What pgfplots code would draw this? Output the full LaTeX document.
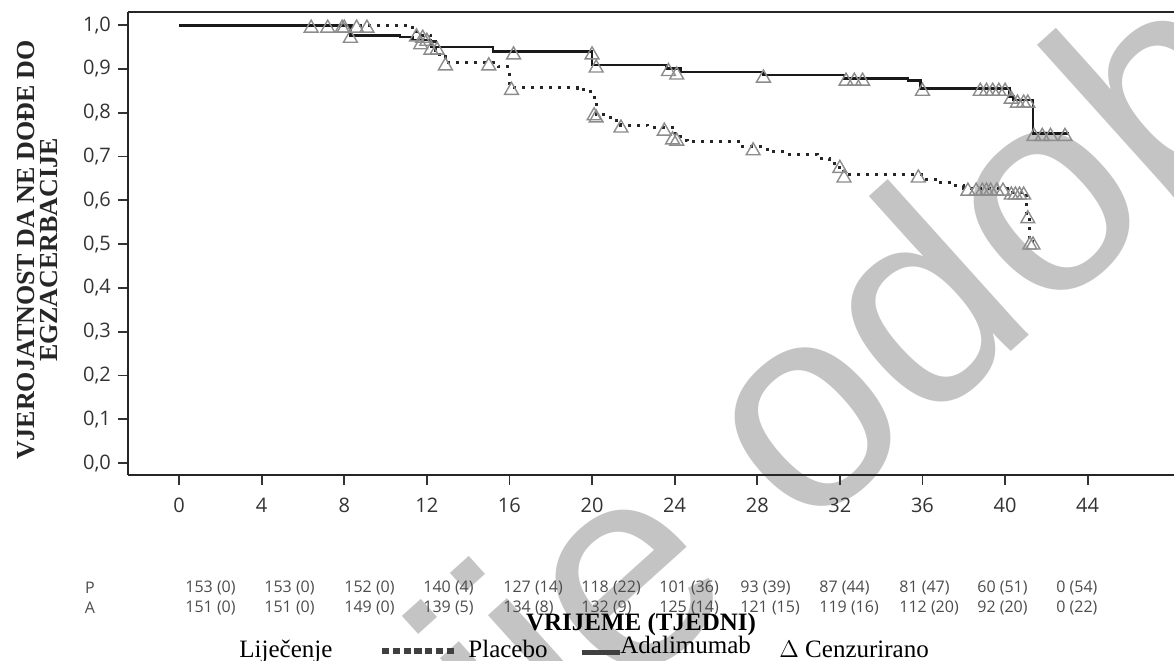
\documentclass[border=0pt]{standalone}
\usepackage{fontspec}
\setmainfont{Liberation Serif}
\newfontfamily\tickfont{Open Sans}
\newfontfamily\wmfont{Liberation Sans}
\usepackage{pgfplots}
\usepackage{pgfplotstable}
\pgfplotsset{compat=1.18}
\definecolor{txt}{HTML}{333333}
\definecolor{cens}{HTML}{8C8C8C}
\definecolor{wm}{HTML}{C4C4C4}

% Kaplan-Meier steps: week, survival after that week
\pgfplotstableread{
x y
0 1.000
8.3 0.977
10.7 0.973
11.3 0.966
12.2 0.950
15.2 0.939
20.0 0.909
23.6 0.901
24.3 0.893
28.3 0.886
32.2 0.879
35.3 0.873
35.9 0.856
40.2 0.838
40.4 0.829
41.35 0.753
43.1 0.753
}\adal

\pgfplotstableread{
x y
0 1.000
11.3 0.985
11.7 0.977
12.2 0.962
12.4 0.943
12.6 0.928
12.9 0.914
15.45 0.905
16.0 0.858
19.3 0.856
19.6 0.848
20.1 0.829
20.2 0.795
20.9 0.783
21.4 0.772
22.7 0.766
23.9 0.753
24.3 0.737
24.6 0.734
27.2 0.722
28.5 0.711
29.4 0.705
30.9 0.696
31.5 0.684
31.9 0.676
32.2 0.658
36.2 0.648
36.8 0.640
37.5 0.633
38.0 0.628
40.1 0.619
41.06 0.562
41.2 0.505
41.4 0.505
}\placebo

% censored observations
\pgfplotstableread{
x y
6.4 1.0
7.2 1.0
7.9 1.0
8.0 1.0
8.6 1.0
9.1 1.0
11.5 0.980
11.8 0.977
11.7 0.962
12.0 0.970
12.9 0.914
15.0 0.914
16.1 0.858
20.1 0.800
20.2 0.795
21.4 0.772
23.5 0.765
23.9 0.745
24.1 0.742
27.8 0.720
32.0 0.680
32.2 0.658
35.8 0.658
38.2 0.628
38.6 0.628
38.9 0.628
39.1 0.628
39.3 0.628
39.6 0.628
39.9 0.628
40.3 0.619
40.5 0.619
40.7 0.619
40.9 0.619
41.1 0.565
41.2 0.505
41.35 0.505
}\cenP

\pgfplotstableread{
x y
8.3 0.977
12.2 0.950
12.5 0.950
16.2 0.939
20.0 0.939
20.2 0.909
23.7 0.901
24.1 0.893
28.3 0.886
32.3 0.879
32.7 0.879
33.1 0.879
36.0 0.856
38.8 0.856
39.1 0.856
39.4 0.856
39.7 0.856
40.0 0.856
40.3 0.838
40.6 0.829
40.9 0.829
41.1 0.829
41.4 0.753
41.8 0.753
42.2 0.753
42.9 0.753
}\cenA

\begin{document}
\begin{tikzpicture}[x=0.5pt,y=-0.5pt]
\useasboundingbox (0,0) rectangle (1174,660);
% watermark
\node[rotate=42, text=wm, font=\wmfont\fontsize{145}{145}\selectfont, inner sep=0pt]
  at (1012,250) {nije odobreno};

\begin{axis}[
  at={(64pt,-237.5pt)}, anchor=south west,
  scale only axis, width=523pt, height=231.5pt,
  xmin=-2.47, xmax=48.18, ymin=-0.027, ymax=1.030,
  axis x line=box, axis y line=left,
  axis line style={line width=1.1pt, black!85, -},
  every outer x axis line/.append style={-},
  every outer y axis line/.append style={-},
  xtick={0,4,...,44}, ytick={0,0.1,...,1.0},
  xtick pos=left, ytick pos=left,
  tick align=outside, major tick length=5pt,
  tick style={line width=0.9pt, black!80},
  tick label style={font=\tickfont\fontsize{10}{12}\selectfont, text=txt},
  /pgf/number format/assume math mode=true,
  yticklabel style={/pgf/number format/.cd, use comma, fixed, fixed zerofill, precision=1},
  xticklabel style={yshift=-3pt},
  clip=false,
]
\addplot[const plot, line width=1.5pt, black!85, dash pattern=on 1.5pt off 3pt] table {\placebo};
\addplot[const plot, line width=1.4pt, black!90] table {\adal};
\addplot[only marks, mark=triangle, mark size=4pt,
  mark options={draw=cens, line width=0.7pt, solid, fill=none, yshift=-1.5pt}] table {\cenP};
\addplot[only marks, mark=triangle, mark size=4pt,
  mark options={draw=cens, line width=0.7pt, solid, fill=none, yshift=-1.5pt}] table {\cenA};
\end{axis}

\node[rotate=90, align=center, font=\bfseries\fontsize{13}{11.5}\selectfont, text=black!85]
  at (38,250) {VJEROJATNOST DA NE DOĐE DO\\EGZACERBACIJE};

\begin{scope}[every node/.style={font=\tickfont\fontsize{8}{10}\selectfont, text=black!70}]
\node at (90,588) {P};
\node at (90,608) {A};
\foreach \p/\t in {185/153 (0),264/153 (0),344/152 (0),423/140 (4),503/127 (14),581/118 (22),
  659/101 (36),740/93 (39),819/87 (44),899/81 (47),977/60 (51),1056/0 (54)}
  \node[anchor=west, inner sep=0pt] at (\p,588) {\t};
\foreach \p/\t in {185/151 (0),264/151 (0),344/149 (0),423/139 (5),503/134 (8),581/132 (9),
  659/125 (14),740/121 (15),819/119 (16),899/112 (20),977/92 (20),1056/0 (22)}
  \node[anchor=west, inner sep=0pt] at (\p,608) {\t};
\end{scope}

\node[anchor=base, inner sep=0pt, font=\bfseries\fontsize{12.5}{14}\selectfont] at (641,630) {VRIJEME (TJEDNI)};
\node[anchor=base west, inner sep=0pt, font=\fontsize{12.5}{14}\selectfont] at (239,657) {Liječenje};
\draw[line width=3.2pt, dash pattern=on 3.6pt off 1.8pt, black!75] (382,651) -- (456,651);
\node[anchor=base west, inner sep=0pt, font=\fontsize{12.5}{14}\selectfont] at (468,657) {Placebo};
\draw[line width=2.5pt, black!75] (582,652) -- (620,652);
\node[anchor=base west, inner sep=0pt, font=\fontsize{12.5}{14}\selectfont] at (620,653) {Adalimumab};
\node[anchor=base west, inner sep=0pt, font=\fontsize{12.5}{14}\selectfont] at (779,657) {$\Delta$ Cenzurirano};
\end{tikzpicture}
\end{document}
